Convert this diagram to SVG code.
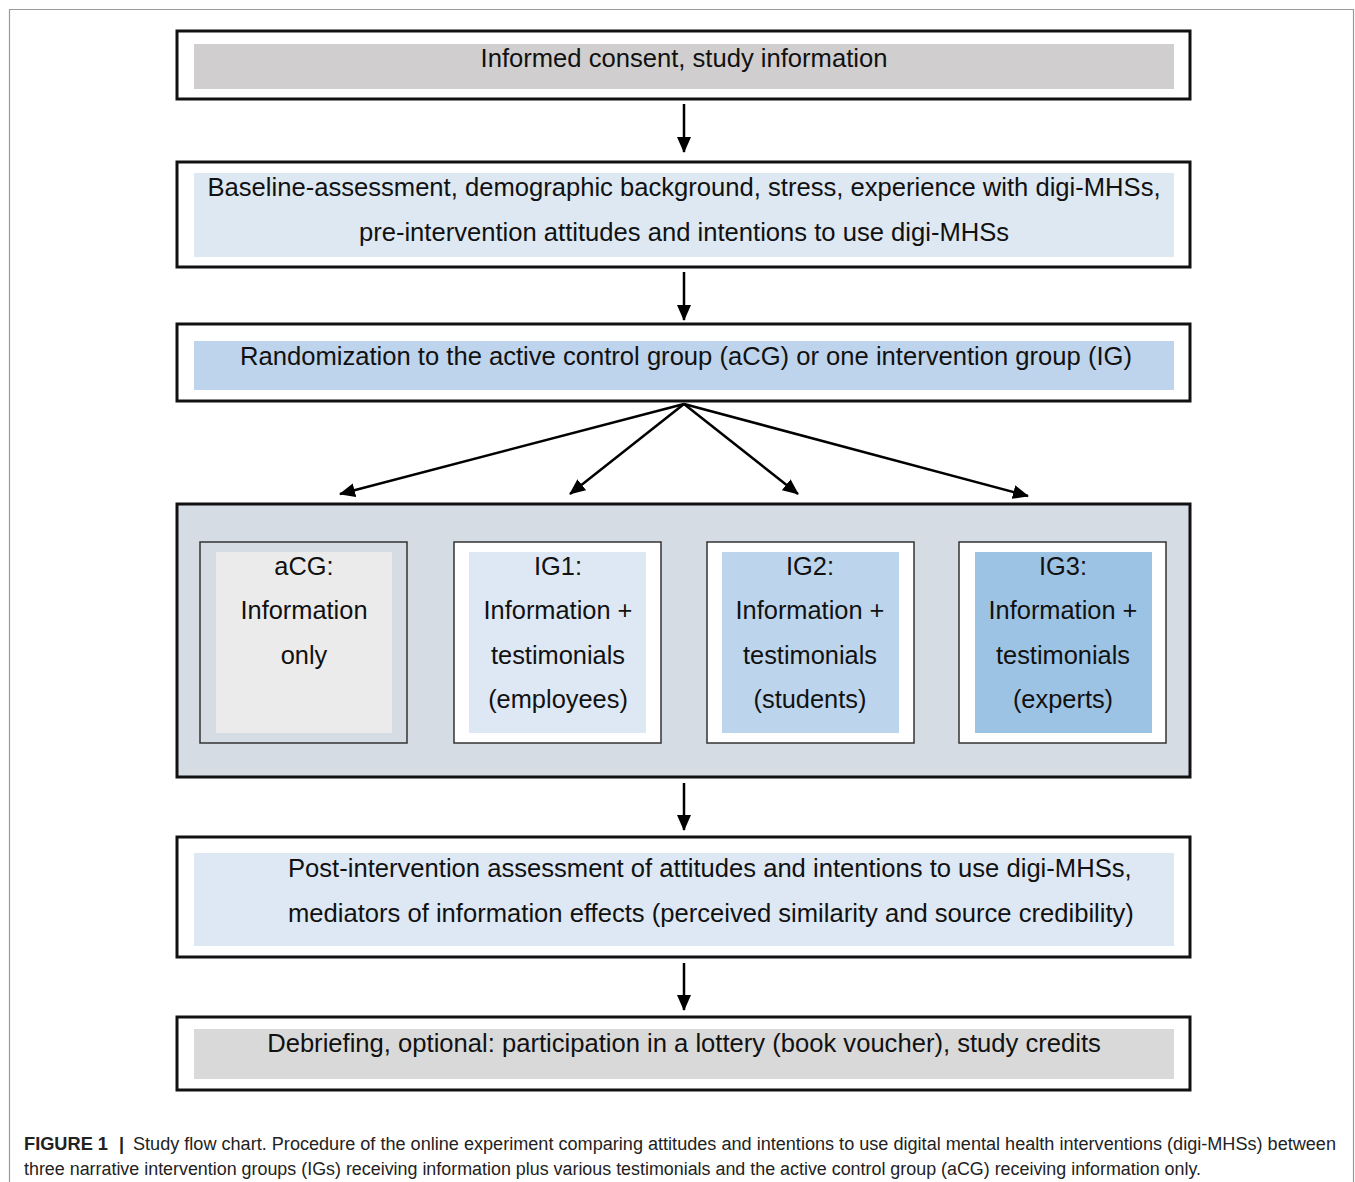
<svg xmlns="http://www.w3.org/2000/svg" width="1355" height="1182" viewBox="0 0 1355 1182">
<defs>
<marker id="ah" markerWidth="16" markerHeight="14" refX="15" refY="7" orient="auto" markerUnits="userSpaceOnUse">
<path d="M0,0 L16,7 L0,14 Z" fill="#000"/>
</marker>
<style>
.box{fill:#fff;stroke:#111;stroke-width:3}
.t{font-family:"Liberation Sans",Arial,sans-serif;font-size:25.6px;fill:#111;text-anchor:middle}
.g{font-family:"Liberation Sans",Arial,sans-serif;font-size:25.4px;fill:#111;text-anchor:middle}
.sub{stroke:#333;stroke-width:1.5}
.con{stroke:#000;stroke-width:2.5;fill:none;marker-end:url(#ah)}
.cap{font-family:"Liberation Sans",Arial,sans-serif;font-size:18px;fill:#222}
</style>
</defs>
<rect x="0" y="0" width="1355" height="1182" fill="#fff"/>
<path d="M9.5,1182 V9.5 H1353.5 V1182" fill="none" stroke="#999" stroke-width="1.2"/>

<g id="consent">
<rect class="box" x="177" y="31" width="1013" height="68"/>
<rect x="194" y="44" width="980" height="45" fill="#d0cece"/>
<text class="t" x="684" y="67">Informed consent, study information</text>
</g>

<g id="baseline">
<rect class="box" x="177" y="162" width="1013" height="105"/>
<rect x="194" y="173" width="980" height="84" fill="#dde8f3"/>
<text class="t" x="684" y="196">Baseline-assessment, demographic background, stress, experience with digi-MHSs,</text>
<text class="t" x="684" y="241">pre-intervention attitudes and intentions to use digi-MHSs</text>
</g>

<g id="randomization">
<rect class="box" x="177" y="324" width="1013" height="77"/>
<rect x="194" y="341" width="980" height="49" fill="#bed4ec"/>
<text class="t" x="686" y="365">Randomization to the active control group (aCG) or one intervention group (IG)</text>
</g>

<g id="groups">
<rect x="177" y="504" width="1013" height="273" fill="#d5dce4" stroke="#111" stroke-width="3"/>
<g id="acg">
<rect class="sub" x="200" y="542" width="207" height="201" fill="#d5dce4"/>
<rect x="216" y="552" width="176" height="181" fill="#ebebeb"/>
<text class="g" x="304" y="575">aCG:</text>
<text class="g" x="304" y="619">Information</text>
<text class="g" x="304" y="664">only</text>
</g>
<g id="ig1">
<rect class="sub" x="454" y="542" width="207" height="201" fill="#fff"/>
<rect x="469" y="552" width="177" height="181" fill="#dde8f4"/>
<text class="g" x="558" y="575">IG1:</text>
<text class="g" x="558" y="619">Information +</text>
<text class="g" x="558" y="664">testimonials</text>
<text class="g" x="558" y="708">(employees)</text>
</g>
<g id="ig2">
<rect class="sub" x="707" y="542" width="207" height="201" fill="#fff"/>
<rect x="722" y="552" width="177" height="181" fill="#bdd5ec"/>
<text class="g" x="810" y="575">IG2:</text>
<text class="g" x="810" y="619">Information +</text>
<text class="g" x="810" y="664">testimonials</text>
<text class="g" x="810" y="708">(students)</text>
</g>
<g id="ig3">
<rect class="sub" x="959" y="542" width="207" height="201" fill="#fff"/>
<rect x="975" y="552" width="177" height="181" fill="#9dc3e4"/>
<text class="g" x="1063" y="575">IG3:</text>
<text class="g" x="1063" y="619">Information +</text>
<text class="g" x="1063" y="664">testimonials</text>
<text class="g" x="1063" y="708">(experts)</text>
</g>
</g>

<g id="post">
<rect class="box" x="177" y="837" width="1013" height="120"/>
<rect x="194" y="853" width="980" height="93" fill="#dde8f4"/>
<text class="t" x="288" y="877" style="text-anchor:start">Post-intervention assessment of attitudes and intentions to use digi-MHSs,</text>
<text class="t" x="288" y="922" style="text-anchor:start">mediators of information effects (perceived similarity and source credibility)</text>
</g>

<g id="debriefing">
<rect class="box" x="177" y="1017" width="1013" height="73"/>
<rect x="194" y="1029" width="980" height="50" fill="#d9d9d9"/>
<text class="t" x="684" y="1052">Debriefing, optional: participation in a lottery (book voucher), study credits</text>
</g>

<g id="connectors">
<line class="con" x1="684" y1="104" x2="684" y2="152"/>
<line class="con" x1="684" y1="272" x2="684" y2="320"/>
<line class="con" x1="684" y1="404" x2="340" y2="494"/>
<line class="con" x1="684" y1="404" x2="570" y2="494"/>
<line class="con" x1="684" y1="404" x2="798" y2="494"/>
<line class="con" x1="684" y1="404" x2="1028" y2="496"/>
<line class="con" x1="684" y1="783" x2="684" y2="830"/>
<line class="con" x1="684" y1="963" x2="684" y2="1010"/>
</g>

<g id="caption">
<text class="cap" x="24" y="1150" font-weight="bold" textLength="84" lengthAdjust="spacingAndGlyphs">FIGURE 1</text>
<text class="cap" x="119" y="1150" font-weight="bold">|</text>
<text class="cap" x="133" y="1150" textLength="1203" lengthAdjust="spacingAndGlyphs">Study flow chart. Procedure of the online experiment comparing attitudes and intentions to use digital mental health interventions (digi-MHSs) between</text>
<text class="cap" x="24" y="1175" textLength="1177" lengthAdjust="spacingAndGlyphs">three narrative intervention groups (IGs) receiving information plus various testimonials and the active control group (aCG) receiving information only.</text>
</g>
</svg>
